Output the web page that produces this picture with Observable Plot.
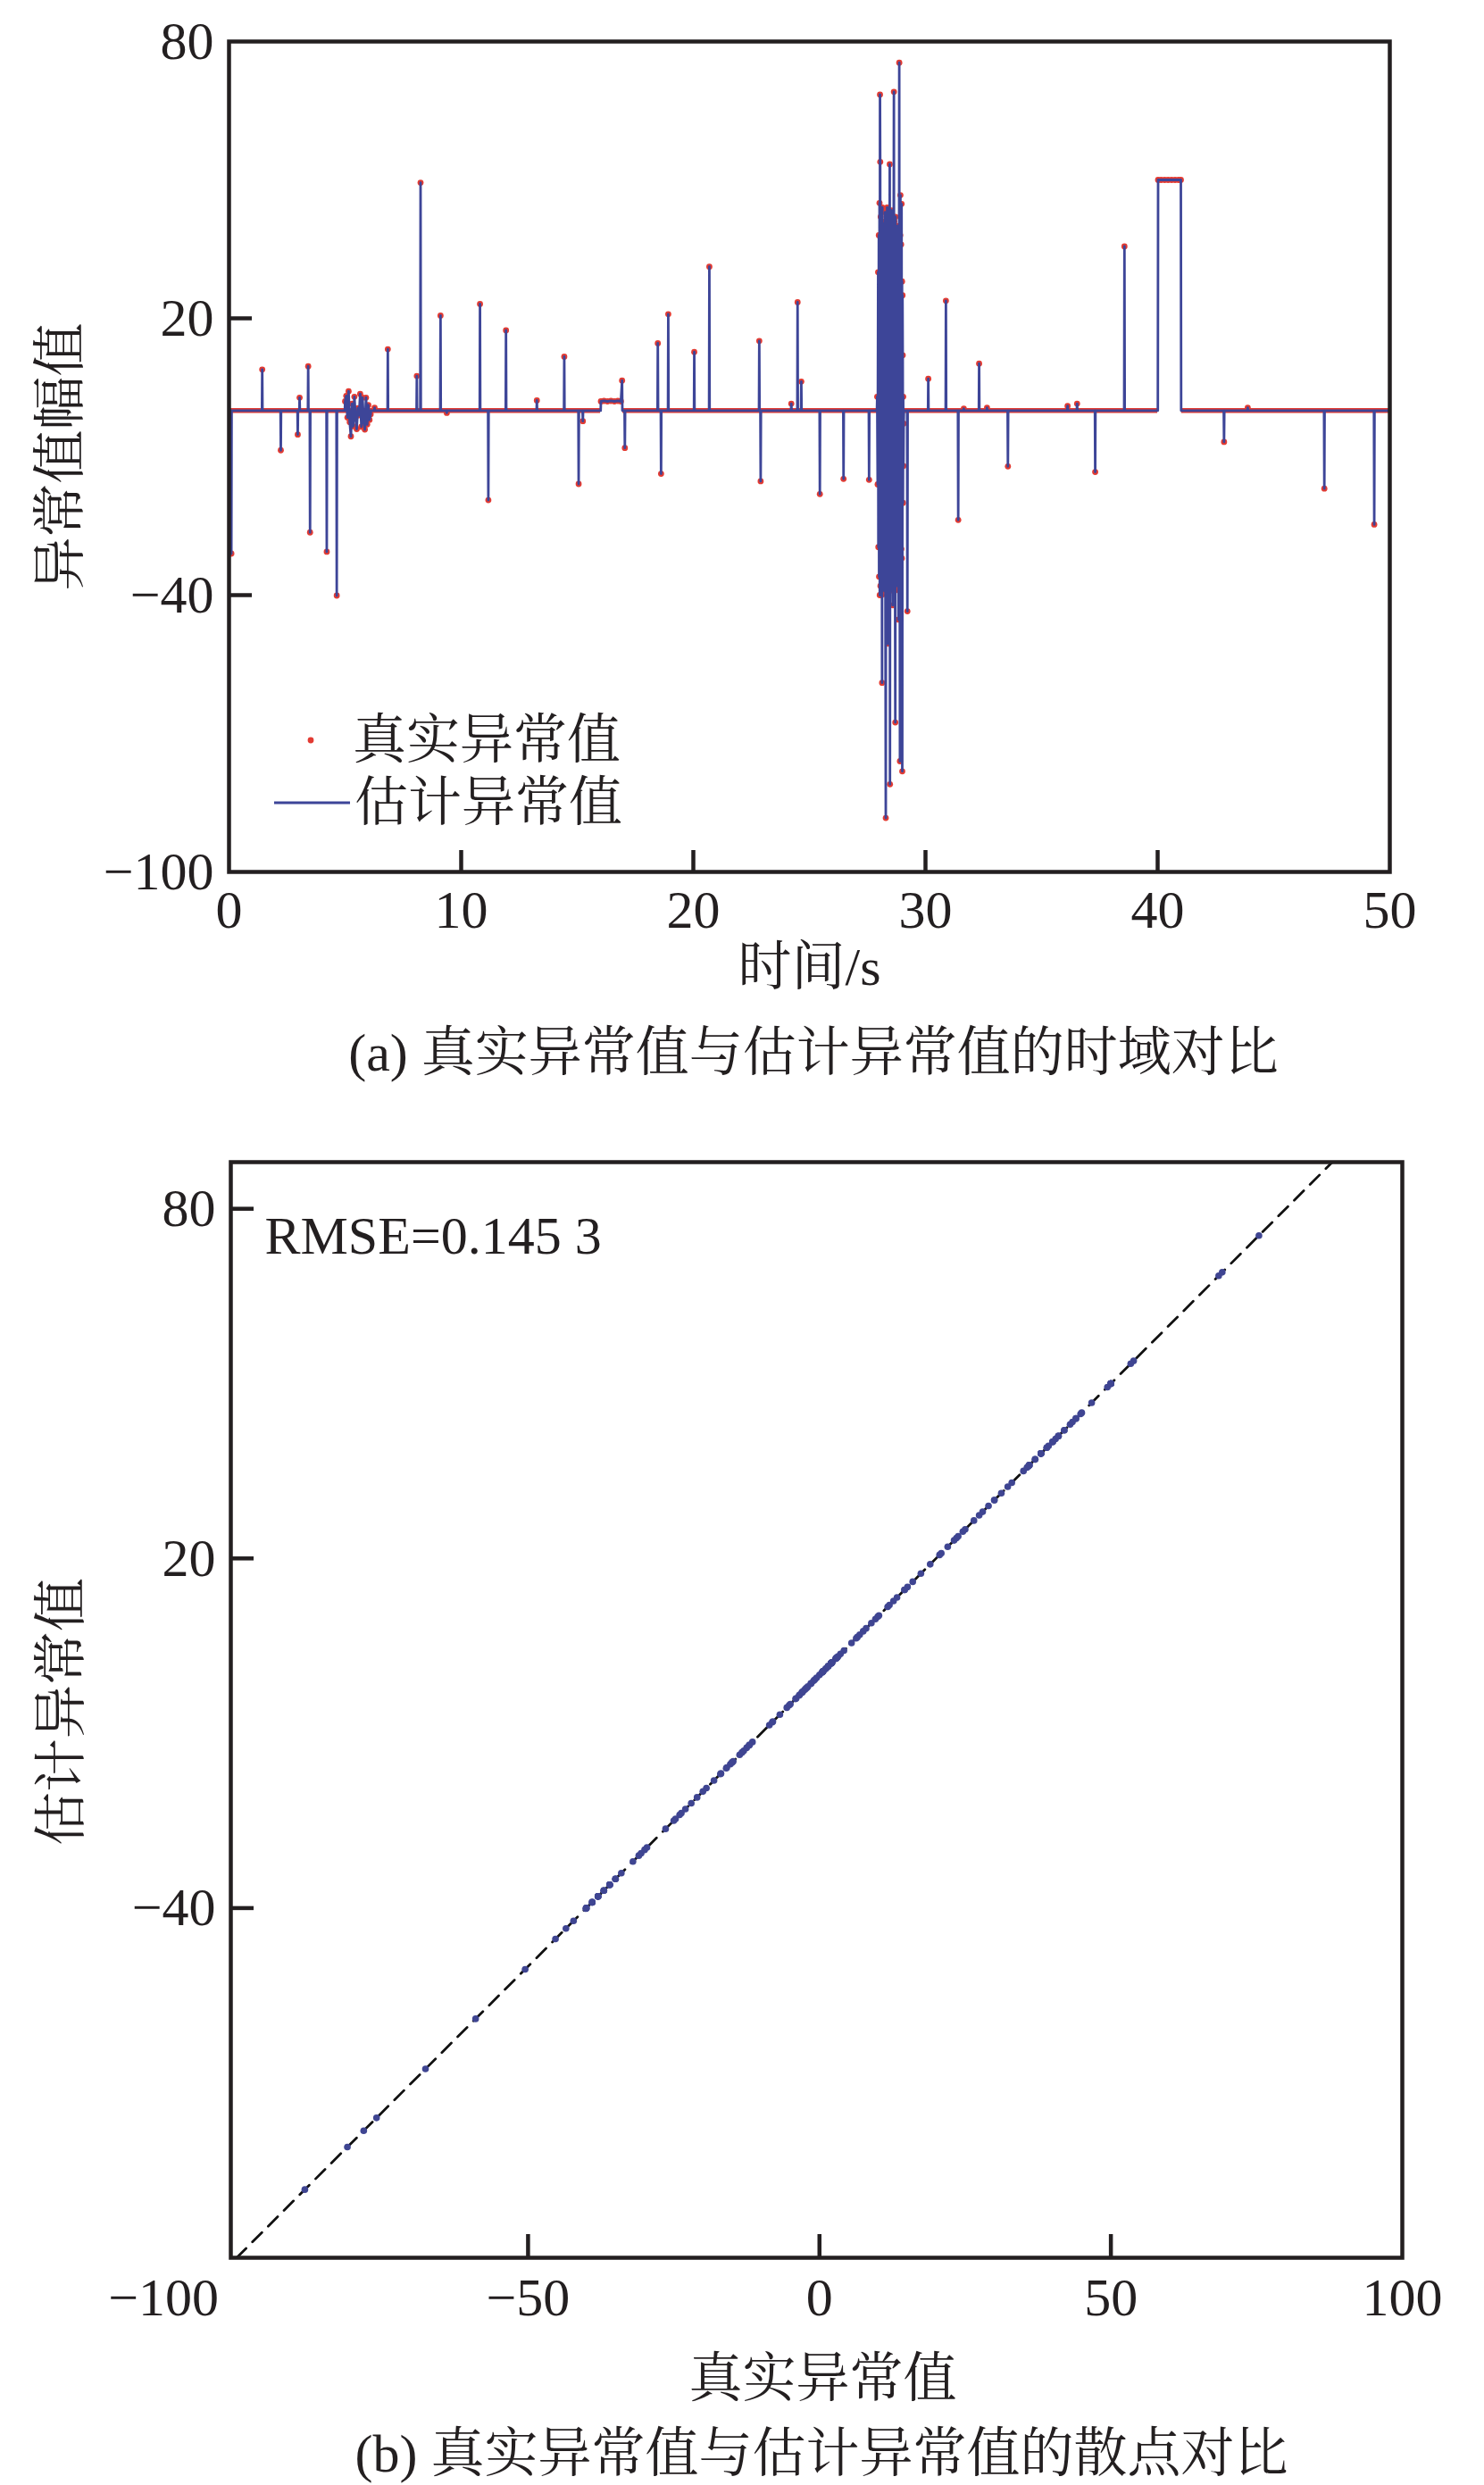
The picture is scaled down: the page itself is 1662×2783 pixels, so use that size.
<!DOCTYPE html>
<html><head><meta charset="utf-8">
<script src="https://cdn.jsdelivr.net/npm/d3@7"></script>
<script src="https://cdn.jsdelivr.net/npm/@observablehq/plot@0.6"></script>
<style>
body{margin:0;background:#fff;}
#page{position:relative;width:1662px;height:2783px;font-family:"Liberation Serif","Noto Serif CJK SC","Noto Sans CJK SC",serif;color:#231f20;}
.abs{position:absolute;white-space:nowrap;line-height:1;}
</style></head><body><div id="page"></div>
<script>
// ---------- data (time in s, anomaly value) ----------
// isolated spikes: each one returns to zero
const spikes = [[0.1,-31],[1.43,8.9],[2.23,-8.6],[2.96,-5.2],[3.04,2.8],[3.41,9.6],[3.49,-26.4],[4.21,-30.6],[4.64,-40.1],
  [6.27,0.6],[6.84,13.3],[8.09,7.5],[8.25,49.4],[9.11,20.6],[9.38,-0.5],[10.81,23.1],[11.17,-19.4],[11.93,17.4],
  [13.26,2.2],[14.44,11.7],[15.06,-15.9],[15.24,-2.3],[17.05,-8.1],[18.47,14.6],[18.61,-13.7],[18.92,20.9],
  [20.04,12.7],[20.69,31.2],[22.84,15.1],[22.9,-15.3],[24.22,1.5],[24.49,23.5],[24.65,6.3],[25.45,-18.1],
  [26.47,-14.8],[27.57,-15],[29.22,-43.5],[30.12,6.9],[30.88,23.8],[31.41,-23.7],[31.65,0.4],[32.31,10.2],
  [32.65,0.6],[33.55,-12.1],[36.12,1.0],[36.53,1.5],[37.31,-13.3],[38.57,35.6],[42.86,-6.8],[43.88,0.6],
  [47.18,-16.9],[49.33,-24.7]];
// contiguous noise burst near 5–6 s
const noise = [[5.00,2.0],[5.05,3.2],[5.10,-1.5],[5.15,4.2],[5.20,-2.5],[5.25,-5.6],[5.30,1.5],[5.35,-3.4],[5.40,3.0],
  [5.45,-1.4],[5.50,-4.0],[5.55,0.5],[5.60,-1.0],[5.65,3.6],[5.70,-3.5],[5.75,2.8],[5.80,-2.2],[5.85,-4.1],
  [5.90,2.8],[5.95,-3.0],[6.00,1.2],[6.05,-2.0],[6.10,-0.8]];
// small step near 16–17 s
const step = [[16.02,2.0],[16.15,2.1],[16.3,2.0],[16.45,2.1],[16.6,2.0],[16.75,2.1],[16.88,2.0],[16.93,6.5]];
// large oscillating burst near 28–29 s
const burst = [[27.92,3],[27.94,-16],[27.96,30],[27.97,-29.6],[27.99,38],[28.00,-36],[28.02,45],[28.03,-40],
  [28.04,68.5],[28.05,53.9],[28.06,-38],[28.07,42],[28.08,-24],[28.09,35.8],[28.10,-40],[28.11,41],[28.12,-12.5],
  [28.13,-59],[28.14,44],[28.15,19],[28.16,-38],[28.17,36],[28.18,-22],[28.20,40.5],[28.21,-39],[28.22,30],
  [28.23,-8],[28.24,26.5],[28.25,-37],[28.26,43],[28.27,-25],[28.29,-88.3],[28.30,39],[28.31,16],[28.32,-35],
  [28.33,32.3],[28.34,-40],[28.35,44],[28.36,-21],[28.38,-50.5],[28.39,38],[28.40,10],[28.41,-36],[28.42,27.4],
  [28.43,-38],[28.44,41],[28.45,-13],[28.46,53.4],[28.47,-81],[28.48,40],[28.49,24.6],[28.50,-39],[28.51,36],
  [28.52,-5],[28.53,43.4],[28.54,-37],[28.55,38],[28.56,-23],[28.57,29],[28.58,-36],[28.59,-42.2],[28.60,40],
  [28.61,8],[28.62,-38],[28.63,37],[28.64,69.1],[28.65,-35],[28.66,41],[28.67,-15],[28.68,38],[28.69,-39],
  [28.70,-67.6],[28.71,42],[28.72,22],[28.73,-36],[28.74,14.6],[28.75,-37],[28.76,39],[28.77,-11.5],[28.78,33],
  [28.79,-38],[28.80,40],[28.81,39.3],[28.82,-36],[28.83,35],[28.84,-45.3],[28.85,37],[28.86,5.5],[28.87,75.4],
  [28.88,-35],[28.89,-17],[28.90,-76],[28.91,38],[28.92,46.7],[28.93,-34],[28.94,-3],[28.95,36],[28.96,-30],
  [28.97,44.8],[28.98,-32],[28.99,28],[29.00,-78.2],[29.01,25],[29.02,12],[29.03,-20],[29.04,3],[29.05,-12],[29.06,-2.8]];
// constant block near 40–41 s
const block = [[40.02,50],[40.15,50],[40.3,50],[40.45,50],[40.6,50],[40.75,50],[40.9,50],[41.0,50]];

const xTicksA = [0,10,20,30,40,50];
const yTicksA = [80,20,-40,-100];
const xTicksB = [-50,0,50,100];
const yTicksB = [80,20,-40];
const xDomainA = [0,50], yDomainA = [-100,80];
const xDomainB = [-101,100], yDomainB = [-100,88];
const rmseText = "RMSE=0.145 3";

// ---------- build tables ----------
const groups = [...spikes.map(p => [p]), noise, step, burst, block].sort((a,b) => a[0][0]-b[0][0]);
const realPts = groups.flat().map(([t,v]) => ({t, v}));
const estLine = [{t: xDomainA[0], v: 0}];
for (const g of groups) {
  estLine.push({t: g[0][0]-0.012, v: 0});
  for (const [t,v] of g) estLine.push({t, v});
  estLine.push({t: g[g.length-1][0]+0.012, v: 0});
}
estLine.push({t: xDomainA[1], v: 0});
const gapGroups = [step, block];
const baseSegs = [];
let s0 = xDomainA[0];
for (const g of gapGroups) { baseSegs.push({a: s0, b: g[0][0]-0.02}); s0 = g[g.length-1][0]+0.03; }
baseSegs.push({a: s0, b: xDomainA[1]});
const scatter = [{real: 0, est: 0}, ...realPts.map(d => ({real: d.v, est: d.v}))];
const diag = yDomainB.map(v => ({x: v, y: v}));

const FONT = '"Liberation Serif","Noto Serif CJK SC","Noto Sans CJK SC",serif';
const BLUE = "#3d4598", RED = "#e23b33", INK = "#231f20", DOTB = "#3f4592";
const page = document.getElementById("page");

// ---------- plot (a) ----------
const wA = 1662, hA = 1110, mLA = 256, mRA = 106, mTA = 46, mBA = 134;
const fHA = hA - mTA - mBA, fWA = wA - mLA - mRA;
const plotA = Plot.plot({
  width: wA, height: hA, marginLeft: mLA, marginRight: mRA, marginTop: mTA, marginBottom: mBA,
  style: {fontFamily: FONT, fontSize: "60px", color: INK, background: "transparent", overflow: "visible"},
  x: {domain: xDomainA}, y: {domain: yDomainA},
  marks: [
    Plot.ruleY(baseSegs, {y: 0, x1: "a", x2: "b", stroke: RED, strokeWidth: 5.5}),
    Plot.dot(realPts, {x: "t", y: "v", r: 3.4, fill: RED}),
    Plot.line(estLine, {x: "t", y: "v", stroke: BLUE, strokeWidth: 2.8}),
    Plot.ruleX(xTicksA.slice(1,-1), {stroke: INK, strokeWidth: 4.5, insetTop: fHA - 24}),
    Plot.ruleY(yTicksA.slice(1,-1), {stroke: INK, strokeWidth: 4.5, insetRight: fWA - 26}),
    Plot.frame({stroke: INK, strokeWidth: 4.5}),
    Plot.axisX({ticks: xTicksA, tickSize: 0, tickPadding: 20, fontSize: 60, label: null}),
    Plot.axisY({ticks: yTicksA, tickSize: 0, tickPadding: 17, fontSize: 60, label: null}),
    Plot.text(["时间/s"], {frameAnchor: "bottom", dy: 107, textAnchor: "middle", lineAnchor: "middle", fontSize: 60}),
    Plot.text(["异常值幅值"], {frameAnchor: "left", dx: -188, rotate: -90, textAnchor: "middle", lineAnchor: "middle", fontSize: 60})
  ]
});
plotA.style.position = "absolute"; plotA.style.left = "0px"; plotA.style.top = "0px";
page.appendChild(plotA);

// ---------- plot (b) ----------
const topB = 1230;
const wB = 1662, hB = 1480, mLB = 258, mRB = 92, mTB = 1301 - topB, mBB = hB - (2528 - topB);
const fHB = hB - mTB - mBB, fWB = wB - mLB - mRB;
const plotB = Plot.plot({
  width: wB, height: hB, marginLeft: mLB, marginRight: mRB, marginTop: mTB, marginBottom: mBB,
  style: {fontFamily: FONT, fontSize: "60px", color: INK, background: "transparent", overflow: "visible"},
  x: {domain: xDomainB}, y: {domain: yDomainB},
  marks: [
    Plot.line(diag, {x: "x", y: "y", stroke: "#111", strokeWidth: 2.8, strokeDasharray: "15,10"}),
    Plot.dot(scatter, {x: "real", y: "est", r: 3.8, fill: DOTB}),
    Plot.ruleX(xTicksB.slice(0,-1), {stroke: INK, strokeWidth: 4.5, insetTop: fHB - 26}),
    Plot.ruleY(yTicksB, {stroke: INK, strokeWidth: 4.5, insetRight: fWB - 26}),
    Plot.frame({stroke: INK, strokeWidth: 4.5}),
    Plot.axisX({ticks: xTicksB, tickSize: 0, tickPadding: 22, fontSize: 60, label: null}),
    Plot.axisX({ticks: [-100], tickSize: 0, tickPadding: 22, fontSize: 60, label: null, textAnchor: "end", dx: -20}),
    Plot.axisY({ticks: yTicksB, tickSize: 0, tickPadding: 17, fontSize: 60, label: null}),
    Plot.text([rmseText], {frameAnchor: "top-left", dx: 38, dy: 83, textAnchor: "start", lineAnchor: "middle", fontSize: 60}),
    Plot.text(["真实异常值"], {frameAnchor: "bottom", dx: 7, dy: 136, textAnchor: "middle", lineAnchor: "middle", fontSize: 60}),
    Plot.text(["估计异常值"], {frameAnchor: "left", dx: -189, dy: 2, rotate: -90, textAnchor: "middle", lineAnchor: "middle", fontSize: 60})
  ]
});
plotB.style.position = "absolute"; plotB.style.left = "0px"; plotB.style.top = topB + "px";
page.appendChild(plotB);

// ---------- legend & captions (HTML) ----------
function addText(txt, x, yc, anchor, size) {
  const d = document.createElement("div");
  d.className = "abs"; d.textContent = txt;
  d.style.fontSize = size + "px"; d.style.top = (yc - size/2) + "px";
  d.style.left = x + "px";
  if (anchor === "middle") d.style.transform = "translateX(-50%)";
  page.appendChild(d);
}
const leg = document.createElementNS("http://www.w3.org/2000/svg", "svg");
leg.setAttribute("width", "120"); leg.setAttribute("height", "120");
leg.style.position = "absolute"; leg.style.left = "290px"; leg.style.top = "800px";
leg.innerHTML = `<circle cx="58" cy="29" r="3.4" fill="${RED}"/><line x1="17" x2="102" y1="99" y2="99" stroke="${BLUE}" stroke-width="2.8"/>`;
page.appendChild(leg);
addText("真实异常值", 395, 829, "start", 60);
addText("估计异常值", 397, 899, "start", 60);
addText("(a) 真实异常值与估计异常值的时域对比", 911, 1179, "middle", 60);
addText("(b) 真实异常值与估计异常值的散点对比", 920, 2748, "middle", 60);
</script></body></html>
